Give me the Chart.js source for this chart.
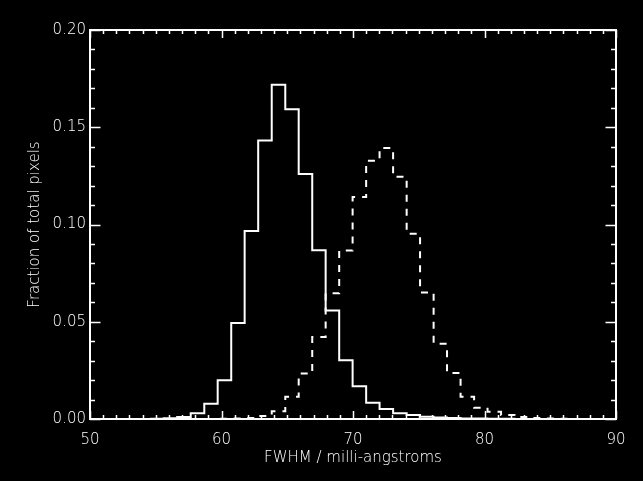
<!DOCTYPE html>
<html>
<head>
<meta charset="utf-8">
<script src="https://cdn.jsdelivr.net/npm/chart.js@4.4.1/dist/chart.umd.min.js"></script>
<style>
  html, body { margin: 0; padding: 0; background: #000; }
  #wrap { width: 643px; height: 481px; }
</style>
</head>
<body>
<div id="wrap"><canvas id="c" width="643" height="481"></canvas></div>
<script>
// Bin edges (FWHM, milli-angstroms)
const binEdges = [54.58, 55.61, 56.63, 57.66, 58.69, 59.71, 60.74, 61.76, 62.79, 63.82,
  64.85, 65.87, 66.90, 67.92, 68.95, 69.97, 71.00, 72.02, 73.05, 74.08,
  75.10, 76.13, 77.15, 78.18, 79.21, 80.23, 81.26, 82.28, 83.31, 84.34,
  85.36, 86.39];
// Solid histogram (fraction of total pixels), one value per bin
const solidFraction = [0.0001, 0.0004, 0.0010, 0.0029, 0.0078, 0.0199, 0.0493, 0.0967, 0.1432, 0.1719,
  0.1592, 0.1260, 0.0868, 0.0558, 0.0302, 0.0169, 0.0083, 0.0052, 0.0030, 0.0020,
  0.0012, 0.0008, 0.0005, 0.0003, 0.0002, 0.0001, 0.0001, 0, 0, 0, 0];
// Dashed histogram
const dashedFraction = [0, 0, 0, 0, 0, 0.0001, 0.0003, 0.0005, 0.0015, 0.0040,
  0.0114, 0.0234, 0.0421, 0.0646, 0.0866, 0.1142, 0.1328, 0.1393, 0.1245, 0.0953,
  0.0651, 0.0387, 0.0237, 0.0114, 0.0058, 0.0037, 0.0020, 0.0010, 0.0005, 0.0003, 0.0001];
const xTickValues = [50, 60, 70, 80, 90];
const yTickValues = [0.00, 0.05, 0.10, 0.15, 0.20];

function stepPoints(vals) {
  const pts = vals.map((v, i) => ({ x: binEdges[i], y: v }));
  pts.push({ x: binEdges[vals.length], y: vals[vals.length - 1] });
  return pts;
}

const FONT = 'DejaVu Sans';
const WEIGHT = 200;

const framePlugin = {
  id: 'frame',
  beforeDraw(chart) {
    const ctx = chart.ctx;
    ctx.save();
    ctx.fillStyle = '#000';
    ctx.fillRect(0, 0, chart.width, chart.height);
    ctx.restore();
  },
  afterDatasetsDraw(chart) {
    const { ctx, chartArea: a, scales: { x, y } } = chart;
    ctx.save();
    ctx.strokeStyle = '#fff';
    ctx.lineWidth = 2;
    ctx.strokeRect(a.left, a.top, a.right - a.left, a.bottom - a.top);
    ctx.lineWidth = 1.5;
    ctx.beginPath();
    for (let v = x.min; v <= x.max + 1e-9; v += 1) {
      const px = Math.round(x.getPixelForValue(v)) + 0.5;
      const major = Math.abs(v % 10) < 1e-9;
      const len = major ? 8 : 4;
      ctx.moveTo(px, a.bottom); ctx.lineTo(px, a.bottom - len);
      ctx.moveTo(px, a.top); ctx.lineTo(px, a.top + len);
    }
    for (let i = 0; i <= 20; i++) {
      const v = i * 0.01;
      const py = Math.round(y.getPixelForValue(v)) + 0.5;
      const major = i % 5 === 0;
      const len = major ? 10.5 : 5;
      ctx.moveTo(a.left, py); ctx.lineTo(a.left + len, py);
      ctx.moveTo(a.right, py); ctx.lineTo(a.right - len, py);
    }
    ctx.stroke();
    ctx.restore();
  }
};

new Chart(document.getElementById('c'), {
  type: 'line',
  data: {
    datasets: [
      {
        data: stepPoints(solidFraction),
        borderColor: '#fff',
        borderWidth: 2,
        stepped: true,
        pointRadius: 0,
        fill: false
      },
      {
        data: stepPoints(dashedFraction),
        borderColor: '#fff',
        borderWidth: 2,
        borderDash: [7, 7],
        stepped: true,
        pointRadius: 0,
        fill: false
      }
    ]
  },
  options: {
    responsive: false,
    animation: false,
    layout: { padding: { left: 0, right: 27, top: 30, bottom: 0 } },
    plugins: { legend: { display: false }, tooltip: { enabled: false } },
    scales: {
      x: {
        type: 'linear',
        min: 50, max: 90,
        afterFit(s) { s.height = 62; },
        afterBuildTicks(s) { s.ticks = xTickValues.map(v => ({ value: v })); },
        grid: { display: false, drawTicks: false, tickLength: 0 },
        border: { display: false },
        ticks: {
          color: '#fff', font: { family: FONT, size: 15, weight: WEIGHT }, padding: 12,
          maxRotation: 0, autoSkip: false,
          callback: v => String(v)
        },
        title: {
          display: true, text: 'FWHM / milli-angstroms', color: '#fff',
          font: { family: FONT, size: 15, weight: WEIGHT }, padding: { top: 0, bottom: 14 }
        }
      },
      y: {
        type: 'linear',
        min: 0, max: 0.2,
        afterFit(s) { s.width = 90; },
        afterBuildTicks(s) { s.ticks = yTickValues.map(v => ({ value: v })); },
        grid: { display: false, drawTicks: false, tickLength: 0 },
        border: { display: false },
        ticks: {
          color: '#fff', font: { family: FONT, size: 15, weight: WEIGHT }, padding: 4,
          autoSkip: false,
          callback: v => Number(v).toFixed(2)
        },
        title: {
          display: true, text: 'Fraction of total pixels', color: '#fff',
          font: { family: FONT, size: 15, weight: WEIGHT }, padding: { top: 26, bottom: 0 }
        }
      }
    }
  },
  plugins: [framePlugin]
});
</script>
</body>
</html>
